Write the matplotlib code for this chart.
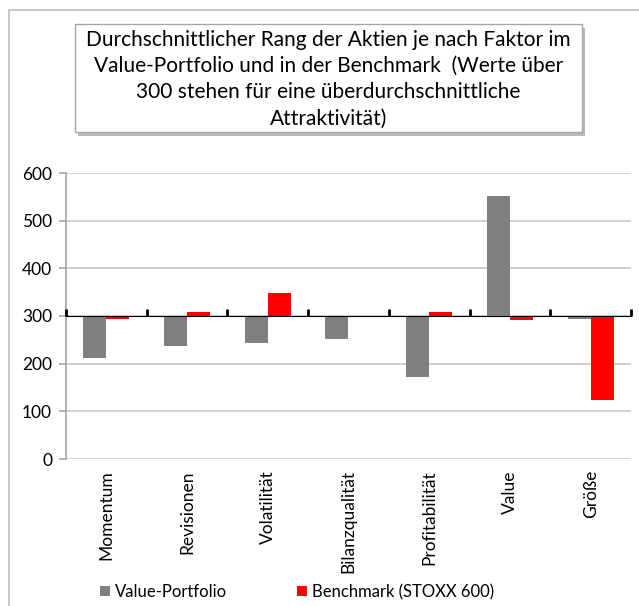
import numpy as np
import matplotlib.pyplot as plt
from matplotlib.patches import Rectangle

plt.rcParams['font.family'] = ['Lato', 'DejaVu Sans']

# data
categories = ["Momentum", "Revisionen", "Volatilität", "Bilanzqualität",
              "Profitabilität", "Value", "Größe"]
value_portfolio = [212, 238, 243, 252, 173, 552, 294]
benchmark = [293, 309, 348, 297, 308, 291, 124]
baseline = 300
series_names = ["Value-Portfolio", "Benchmark (STOXX 600)"]
title = ("Durchschnittlicher Rang der Aktien je nach Faktor im\n"
         "Value-Portfolio und in der Benchmark  (Werte über\n"
         "300 stehen für eine überdurchschnittliche\n"
         "Attraktivität)")

fig = plt.figure(figsize=(6.39, 6.06), dpi=100)
fig.patch.set_facecolor("white")

# outer chart frame
fig.patches.append(Rectangle((9 / 639, -0.05), 1.0, 1 - 10 / 606 + 0.05,
                             transform=fig.transFigure, fill=False,
                             edgecolor="#bfbfbf", linewidth=1.2))

ax = fig.add_axes([66 / 639, 1 - 459 / 606, (631 - 66) / 639, (459 - 173) / 606])

x = np.arange(len(categories))
w = 0.285
vp = np.array(value_portfolio) - baseline
bm = np.array(benchmark) - baseline
ax.bar(x - w / 2, vp, w, bottom=baseline, color="#808080", label=series_names[0], zorder=3)
ax.bar(x + w / 2, bm, w, bottom=baseline, color="#ff0000", label=series_names[1], zorder=3)

ax.set_xlim(-0.5, len(categories) - 0.5)
ax.set_ylim(0, 600)
ax.set_yticks(range(0, 601, 100))
ax.yaxis.grid(True, color="#c8c8c8", linewidth=1.2)
ax.set_axisbelow(True)
for s in ["top", "right", "bottom"]:
    ax.spines[s].set_visible(False)
ax.spines["left"].set_color("#a6a6a6")
ax.spines["left"].set_linewidth(1.2)
ax.tick_params(axis="y", colors="#a6a6a6", length=5, width=1.2, labelcolor="black",
               labelsize=12.5, pad=5)
ax.set_xticks(x)
ax.set_xticklabels(categories, rotation=90, fontsize=12.5, va="top")
ax.tick_params(axis="x", length=0, pad=8)

# category axis at the 300 line
sec = ax.secondary_xaxis(baseline / 600)
sec.set_xticks(np.arange(len(categories) + 1) - 0.5)
sec.set_xticklabels([])
sec.spines["bottom"].set_linewidth(2)
sec.spines["bottom"].set_color("black")
sec.tick_params(axis="x", direction="out", length=5, width=2, color="black")
sec.set_zorder(4)

# title box with shadow
bx, by, bw, bh = 75 / 639, 1 - 132 / 606, (582 - 75) / 639, (132 - 24) / 606
fig.patches.append(Rectangle((bx + 0.005, by - 0.006), bw, bh, transform=fig.transFigure,
                             facecolor="#8c8c8c", edgecolor="none", alpha=0.6, zorder=1))
fig.patches.append(Rectangle((bx, by), bw, bh, transform=fig.transFigure,
                             facecolor="white", edgecolor="#a6a6a6", linewidth=1, zorder=2))
fig.text(bx + bw / 2, by + bh / 2 - 0.002, title, ha="center", va="center", fontsize=15,
         linespacing=1.4, zorder=3)

# legend
handles, labels = ax.get_legend_handles_labels()
fig.legend(handles, labels, loc="center", bbox_to_anchor=(0.465, 1 - 592 / 606), ncol=2,
           frameon=False, fontsize=12, handlelength=0.6, handleheight=0.6,
           handletextpad=0.3, columnspacing=4.2)

fig.savefig("out.png", dpi=100)
